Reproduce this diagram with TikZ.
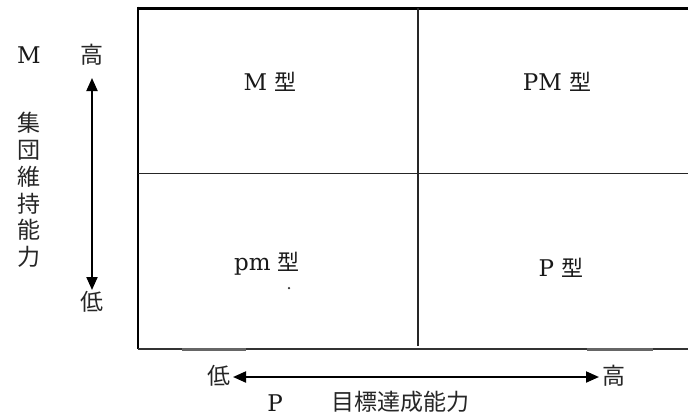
\documentclass[tikz,border=0pt]{standalone}
\usepackage{fontspec}
\setmainfont{DejaVu Serif}
\newfontfamily\jp{Noto Sans CJK JP}
\usetikzlibrary{arrows.meta}
\tikzset{
  lat/.style={inner sep=0pt, font=\fontsize{23}{27}\selectfont, text=black!90},
  cjk/.style={inner sep=0pt, font=\jp\fontsize{23}{27}\selectfont, text=black!85},
  lab/.style={inner sep=0pt, font=\fontsize{23}{27}\selectfont, text=black!90},
  dblarrow/.style={line width=2pt, {Triangle[length=13pt,width=11pt]}-{Triangle[length=13pt,width=11pt]}},
  grayseg/.style={line width=3pt, draw=black!60},
}
\newcommand{\kata}{{\jp\fontsize{22}{26}\selectfont 型}}
\begin{document}
\begin{tikzpicture}[x=1pt,y=-1pt]
\clip (0,0) rectangle (688,416);
\fill[white] (0,0) rectangle (688,416);
% frame
\coordinate (tl) at (138,8);
\coordinate (tr) at (700,8);
\coordinate (bl) at (138,349);
\coordinate (br) at (700,349);
\coordinate (mt) at (418,8);
\coordinate (mb) at (418,346);
\coordinate (ml) at (138,173.5);
\coordinate (mr) at (700,173.5);
\draw[line width=3pt] (tl) -- (tr);
\draw[line width=2.5pt] ([yshift=1.5pt]tl) -- (bl);
\draw[line width=1.8pt, draw=black!80] (bl) -- (br);
\draw[line width=1.6pt, draw=black!85] (mt) -- (mb);
\draw[line width=1.6pt, draw=black!85] (ml) -- (mr);
% gray segments
\coordinate (g1a) at (182,349);
\coordinate (g1b) at (246,349);
\coordinate (g2a) at (587,349);
\coordinate (g2b) at (653,349);
\draw[grayseg] (g1a) -- (g1b);
\draw[grayseg] (g2a) -- (g2b);
% quadrant labels
\node[lab] (qm) at (270,82) {M \kata};
\node[lab] (qpm) at (557,82) {PM \kata};
\node[lab] (qpml) at (267,264) {pm \kata};
\node[lab] (qp) at (561,268) {P \kata};
\node[circle, fill=black!80, inner sep=0pt, minimum size=2.5pt] (dot) at (289,288) {};
% left axis
\node[lat] (M) at (29,55) {M};
\node[cjk] (hiL) at (92,55) {高};
\node[cjk] (loL) at (92,302) {低};
\node[cjk, align=center, font=\jp\fontsize{23}{26.7}\selectfont] (vtext) at (29,190) {集\\団\\維\\持\\能\\力};
\coordinate (vt) at (92,78);
\coordinate (vb) at (92,290);
\draw[dblarrow] (vt) -- (vb);
% bottom axis
\node[cjk] (loB) at (219,376) {低};
\node[cjk] (hiB) at (614,376) {高};
\coordinate (hl) at (233,377);
\coordinate (hr) at (599,377);
\draw[dblarrow] (hl) -- (hr);
\node[lat] (P) at (275,403) {P};
\node[cjk] (ptext) at (400,402) {目標達成能力};
\end{tikzpicture}
\end{document}
